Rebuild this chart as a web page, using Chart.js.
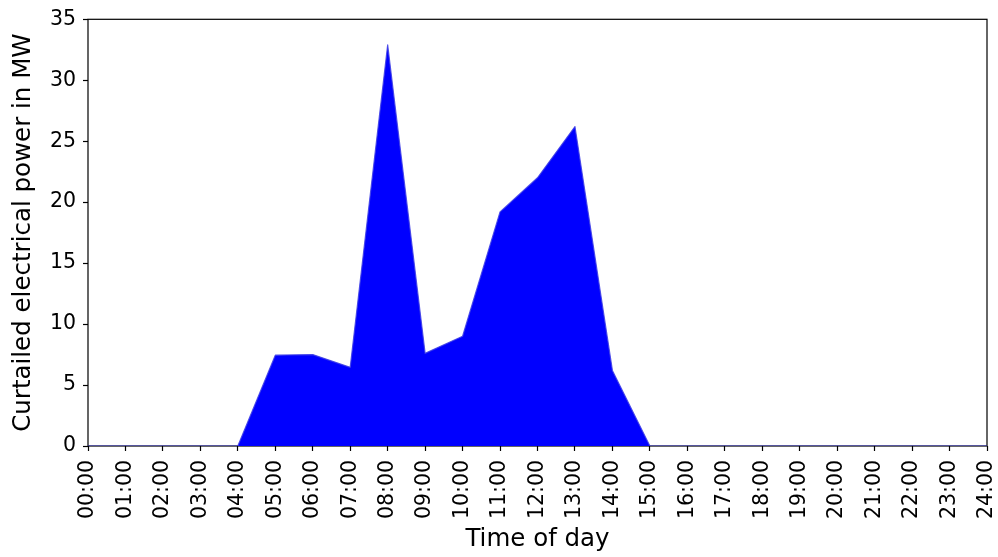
<!DOCTYPE html>
<html>
<head>
<meta charset="utf-8">
<title>Curtailed electrical power</title>
<script src="https://cdn.jsdelivr.net/npm/chart.js@4/dist/chart.umd.min.js"></script>
<style>
  html, body { margin: 0; padding: 0; background: #fff; }
  #wrap { width: 998px; height: 557px; }
</style>
</head>
<body>
<div id="wrap"><canvas id="curtailChart" width="998" height="557"></canvas></div>
<script>
// hourly time labels, 00:00 .. 24:00
const hours = ['00:00', '01:00', '02:00', '03:00', '04:00', '05:00', '06:00', '07:00',
    '08:00', '09:00', '10:00', '11:00', '12:00', '13:00', '14:00', '15:00', '16:00',
    '17:00', '18:00', '19:00', '20:00', '21:00', '22:00', '23:00', '24:00'];

// curtailed power in MW
const curtailedMW = [0, 0, 0, 0, 0, 7.45, 7.5, 6.45, 32.9, 7.6, 9.0, 19.2, 22.0, 26.2,
    6.2, 0, 0, 0, 0, 0, 0, 0, 0, 0, 0];

const yMin = 0;
const yMax = 35;
const yStep = 5;

const tickFont = { family: 'DejaVu Sans', size: 20.5 };
const titleFont = { family: 'DejaVu Sans', size: 24.5 };

// draws the full box round the plot (matplotlib style spines)
const frame = {
    id: 'frame',
    beforeDatasetsDraw(chart) {
        const { ctx, chartArea: a } = chart;
        ctx.save();
        ctx.strokeStyle = '#000';
        ctx.lineWidth = 1.2;
        ctx.strokeRect(a.left, a.top, a.right - a.left, a.bottom - a.top);
        ctx.restore();
    }
};

new Chart(document.getElementById('curtailChart'), {
    type: 'line',
    data: {
        labels: hours,
        datasets: [{
            data: curtailedMW,
            fill: 'origin',
            backgroundColor: '#0000ff',
            borderColor: 'rgba(60, 60, 230, 0.85)',
            borderWidth: 1.2,
            borderJoinStyle: 'round',
            pointRadius: 0,
            tension: 0
        }]
    },
    options: {
        responsive: false,
        animation: false,
        layout: { padding: { top: 17, right: 11, left: 0, bottom: 0 } },
        plugins: {
            legend: { display: false },
            tooltip: { enabled: false }
        },
        scales: {
            x: {
                afterFit: s => {
                    s.height = 111;
                    s.paddingLeft = 0;
                    s.paddingRight = 0;
                },
                grid: { drawOnChartArea: false, tickLength: 5, tickColor: '#000', tickWidth: 1.2 },
                border: { display: false },
                ticks: {
                    color: '#000',
                    font: tickFont,
                    minRotation: 90,
                    maxRotation: 90,
                    autoSkip: false,
                    padding: 9
                },
                title: {
                    display: true,
                    text: 'Time of day',
                    color: '#000',
                    font: titleFont,
                    padding: { top: 0, bottom: 3 }
                }
            },
            y: {
                min: yMin,
                max: yMax,
                afterFit: s => { s.width = 88; },
                grid: { drawOnChartArea: false, tickLength: 5, tickColor: '#000', tickWidth: 1.2 },
                border: { display: false },
                ticks: { stepSize: yStep, color: '#000', font: tickFont, padding: 7 },
                title: {
                    display: true,
                    text: 'Curtailed electrical power in MW',
                    color: '#000',
                    font: titleFont,
                    padding: { top: 9, bottom: 0 }
                }
            }
        }
    },
    plugins: [frame]
});
</script>
</body>
</html>
